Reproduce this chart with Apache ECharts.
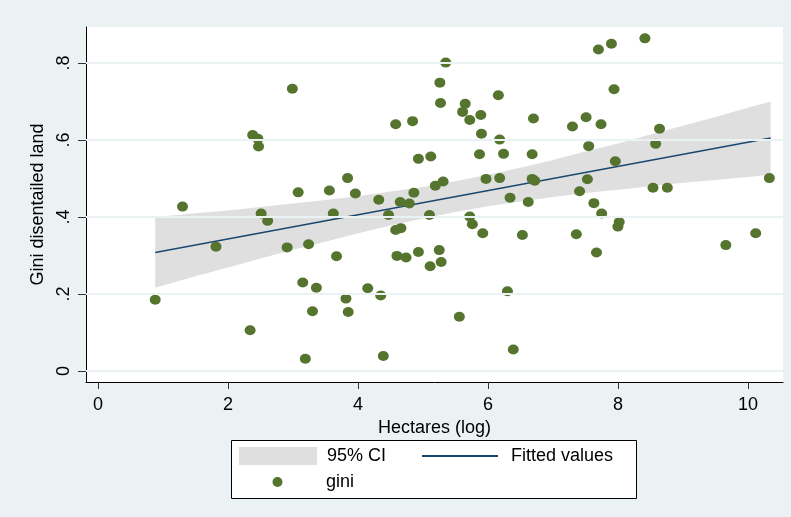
<!DOCTYPE html>
<html><head><meta charset="utf-8">
<script src="https://cdn.jsdelivr.net/npm/echarts@6/dist/echarts.min.js"></script>
<style>html,body{margin:0;padding:0;background:#EAF2F3}#c{width:791px;height:517px}</style>
</head><body><div id="c"></div>
<script>
// gini scatter points (Hectares (log), Gini disentailed land)
const giniX = [0.88,1.30,1.815,2.34,2.38,2.46,2.47,2.51,2.61,2.91,2.99,3.08,3.15,3.19,3.24,3.30,3.36,3.56,3.62,3.67,
  3.815,3.84,3.85,3.96,4.15,4.32,4.35,4.39,4.47,4.58,4.58,4.60,4.65,4.66,4.74,4.79,4.84,4.86,4.93,4.93,
  5.10,5.11,5.12,5.19,5.25,5.26,5.27,5.28,5.31,5.35,5.56,5.61,5.65,5.72,5.72,5.76,5.87,5.89,5.90,5.92,
  5.97,6.16,6.18,6.18,6.24,6.30,6.34,6.39,6.53,6.62,6.68,6.68,6.70,6.72,7.30,7.36,7.41,7.51,7.53,7.55,
  7.63,7.67,7.70,7.74,7.75,7.90,7.94,7.96,8.00,8.02,8.415,8.54,8.58,8.64,8.76,9.66,10.12,10.33];
const giniY = [0.185,0.427,0.323,0.106,0.613,0.603,0.583,0.409,0.390,0.321,0.733,0.464,0.230,0.032,0.329,0.155,0.216,0.469,0.409,0.298,
  0.188,0.501,0.153,0.461,0.215,0.445,0.196,0.039,0.405,0.641,0.366,0.299,0.439,0.371,0.295,0.435,0.649,0.463,0.551,0.309,
  0.405,0.272,0.557,0.481,0.314,0.749,0.696,0.283,0.492,0.801,0.141,0.673,0.694,0.652,0.401,0.381,0.563,0.665,0.616,0.358,
  0.499,0.716,0.601,0.501,0.564,0.207,0.450,0.056,0.353,0.439,0.563,0.499,0.656,0.494,0.635,0.355,0.467,0.659,0.498,0.584,
  0.436,0.308,0.835,0.641,0.409,0.850,0.732,0.545,0.375,0.387,0.864,0.476,0.590,0.629,0.476,0.327,0.358,0.501];
// fitted line end points
const fitX = [0.88, 10.35];
const fitY = [0.308, 0.605];
// 95% CI band
const ciX =     [0.88,1.5,2,2.5,3,3.5,4,4.5,5,5.5,6,6.5,7,7.5,8,8.5,9,9.5,10,10.35];
const ciUpper = [0.400,0.410,0.417,0.426,0.435,0.444,0.454,0.466,0.478,0.493,0.510,0.528,0.548,0.570,0.591,0.614,0.637,0.660,0.684,0.700];
const ciLower = [0.216,0.246,0.269,0.292,0.315,0.336,0.358,0.378,0.396,0.413,0.428,0.440,0.452,0.462,0.471,0.480,0.489,0.496,0.504,0.510];
// axis ticks
const xTicks = [0,2,4,6,8,10];
const xTickLabels = ['0','2','4','6','8','10'];
const yTicks = [0,0.2,0.4,0.6,0.8];
const yTickLabels = ['0','.2','.4','.6','.8'];

function lab(ticks, labels){
  return v => { for (let i=0;i<ticks.length;i++){ if (Math.abs(ticks[i]-v)<1e-9) return labels[i]; } return ''; };
}
const FONT = '"Liberation Sans", Arial, sans-serif';
const chart = echarts.init(document.getElementById('c'), null, {renderer:'canvas'});
chart.setOption({
  animation:false,
  backgroundColor:'#EAF2F3',
  textStyle:{fontFamily:FONT},
  grid:{left:86,right:8,top:27,bottom:135,show:true,backgroundColor:'#ffffff',borderWidth:0},
  xAxis:{type:'value',min:-0.185,max:10.54,
    axisLine:{show:true,onZero:false,lineStyle:{color:'#000',width:1}},
    axisTick:{show:true,length:7,customValues:xTicks,lineStyle:{color:'#333'}},
    axisLabel:{customValues:xTicks,margin:14,fontSize:18,color:'#000',fontFamily:FONT,formatter:lab(xTicks,xTickLabels)},
    splitLine:{show:false},
    name:'Hectares (log)',nameLocation:'middle',nameGap:31,nameTextStyle:{fontSize:18,color:'#000',fontFamily:FONT}},
  yAxis:{type:'value',min:-0.0286,max:0.8935,
    axisLine:{show:true,onZero:false,lineStyle:{color:'#000',width:1}},
    axisTick:{show:true,length:8,customValues:yTicks,lineStyle:{color:'#333'}},
    axisLabel:{customValues:yTicks,rotate:90,margin:13,fontSize:18,color:'#000',fontFamily:FONT,formatter:lab(yTicks,yTickLabels)},
    splitLine:{show:false},
    name:'Gini disentailed land',nameLocation:'middle',nameGap:36,nameTextStyle:{fontSize:18,color:'#000',fontFamily:FONT}},
  legend:[
    {data:[{name:'95% CI',icon:'rect'}],left:239,top:447,padding:0,itemWidth:78,itemHeight:18,selectedMode:false,
      textStyle:{fontSize:18,color:'#000',fontFamily:FONT,padding:[4,0,0,5]}},
    {data:[{name:'Fitted values',icon:'rect'}],left:422,top:447,padding:0,itemWidth:76,itemHeight:2,selectedMode:false,
      textStyle:{fontSize:18,color:'#000',fontFamily:FONT,padding:[4,0,0,8]}},
    {data:[{name:'gini',icon:'circle'}],left:272.5,top:473,padding:0,itemWidth:11,itemHeight:10,selectedMode:false,
      textStyle:{fontSize:18,color:'#000',fontFamily:FONT,padding:[0,0,0,38]}}
  ],
  graphic:[{type:'rect',z:1,silent:true,shape:{x:231.5,y:440.5,width:405,height:58},style:{fill:'#ffffff',stroke:'#000',lineWidth:1}}],
  series:[
    {type:'line',name:'grid',data:[],z:1,silent:true,
      markLine:{silent:true,symbol:'none',label:{show:false},animation:false,
        lineStyle:{color:'#EAF2F3',width:2,type:'solid'},
        data:yTicks.map(v=>({yAxis:v}))}},
    {type:'custom',name:'95% CI',z:2,silent:true,
      itemStyle:{color:'#DFDFDF'},
      data:ciX.map((x,i)=>[x,ciLower[i],ciUpper[i]]),
      encode:{x:0,y:[1,2]},
      renderItem:function(params,api){
        if (params.dataIndex!==0) return null;
        const top = ciX.map((x,i)=>api.coord([x,ciUpper[i]]));
        const bot = ciX.map((x,i)=>api.coord([x,ciLower[i]])).reverse();
        return {type:'polygon',shape:{points:top.concat(bot)},style:{fill:'#DFDFDF'}};
      }},
    {type:'line',name:'Fitted values',z:3,silent:true,symbol:'none',showSymbol:false,
      lineStyle:{color:'#1A476F',width:1.6},itemStyle:{color:'#1A476F'},
      data:fitX.map((x,i)=>[x,fitY[i]])},
    {type:'scatter',name:'gini',z:4,silent:true,symbol:'circle',symbolSize:[11,10],
      itemStyle:{color:'#55752F',opacity:1},
      data:giniX.map((x,i)=>[x,giniY[i]])}
  ]
});
</script></body></html>
